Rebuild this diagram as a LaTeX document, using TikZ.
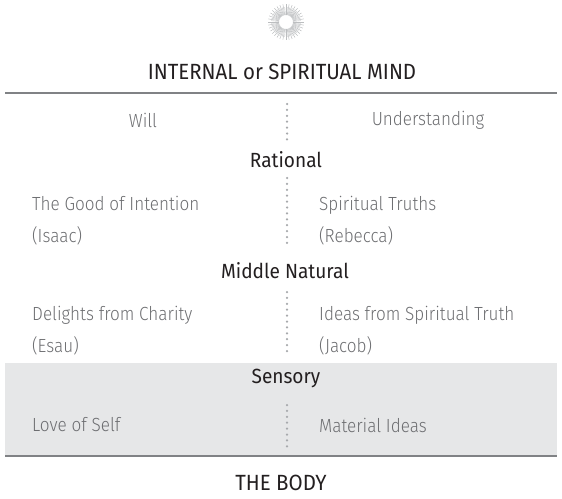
\documentclass[tikz,border=0pt]{standalone}
\usepackage{fontspec}
\setmainfont{Fira Sans}
\newfontfamily\headfont{Fira Sans}[FakeStretch=0.93]
\newfontfamily\lightfont{Fira Sans Light}[FakeStretch=0.9]
\usetikzlibrary{positioning}

\definecolor{itemgray}{HTML}{6D6E71}
\definecolor{headdark}{HTML}{231F20}
\definecolor{dotgray}{HTML}{A7A9AC}
\definecolor{bandgray}{HTML}{E6E7E8}
\definecolor{rulegray}{HTML}{808285}
\definecolor{raygray}{HTML}{BCBEC0}

\tikzset{
  title/.style={font=\headfont\fontsize{22}{25}\selectfont, text=headdark, inner sep=0pt},
  level/.style={font=\headfont\fontsize{20.5}{23}\selectfont, text=headdark, inner sep=0pt},
  itemtext/.style={font=\lightfont\fontsize{19}{32}\selectfont, text=itemgray,
    inner sep=0pt, align=left},
  sepline/.style={dotgray, line width=2.5pt, line cap=round, dash pattern=on 0pt off 5.9pt},
  rule/.style={rulegray, line width=1.5pt},
}

\begin{document}
\begin{tikzpicture}[x=1pt,y=-1pt]
  \useasboundingbox (0,0) rectangle (562,498);

  % sensory band
  \fill[bandgray] (5,363) rectangle (557,455);

  % sun
  \foreach \a in {0,10,...,350} {
    \draw[raygray, line width=0.5pt] (286,22) ++(\a:7) -- ++(\a:11);
    \draw[raygray, line width=0.4pt] (286,22) ++(\a+5:7) -- ++(\a+5:8);
  }

  \node[title] (mind) at (282,72) {INTERNAL or SPIRITUAL MIND};
  \draw[rule] (5,93) -- (557,93);

  \node[itemtext] (will)  at (143,120) {Will};
  \node[itemtext] (under) at (428,120) {Understanding};

  \node[level] (rational) at (286,160) {Rational};
  \node[itemtext, anchor=west] (good)  at (32,221)  {The Good of Intention\\(Isaac)};
  \node[itemtext, anchor=west] (truth) at (319,221) {Spiritual Truths\\(Rebecca)};

  \node[level] (middle) at (285,271) {Middle Natural};
  \node[itemtext, anchor=west] (delight) at (32,331)  {Delights from Charity\\(Esau)};
  \node[itemtext, anchor=west] (ideas)   at (319,331) {Ideas from Spiritual Truth\\(Jacob)};

  \node[level] (sensory) at (286,378) {Sensory};
  \node[itemtext, anchor=west] (self)     at (32,425)  {Love of Self};
  \node[itemtext, anchor=west] (material) at (319,425) {Material Ideas};

  \draw[rule] (5,456) -- (557,456);
  \node[title] (body) at (281,483) {THE BODY};

  % dotted dividers
  \coordinate (d1) at (287,104);
  \coordinate (d2) at (287,178);
  \coordinate (d3) at (287,292);
  \coordinate (d4) at (287,405);
  \draw[sepline] (d1) -- (287,145);
  \draw[sepline] (d2) -- (287,248);
  \draw[sepline] (d3) -- (287,356);
  \draw[sepline] (d4) -- (287,447);
\end{tikzpicture}
\end{document}
